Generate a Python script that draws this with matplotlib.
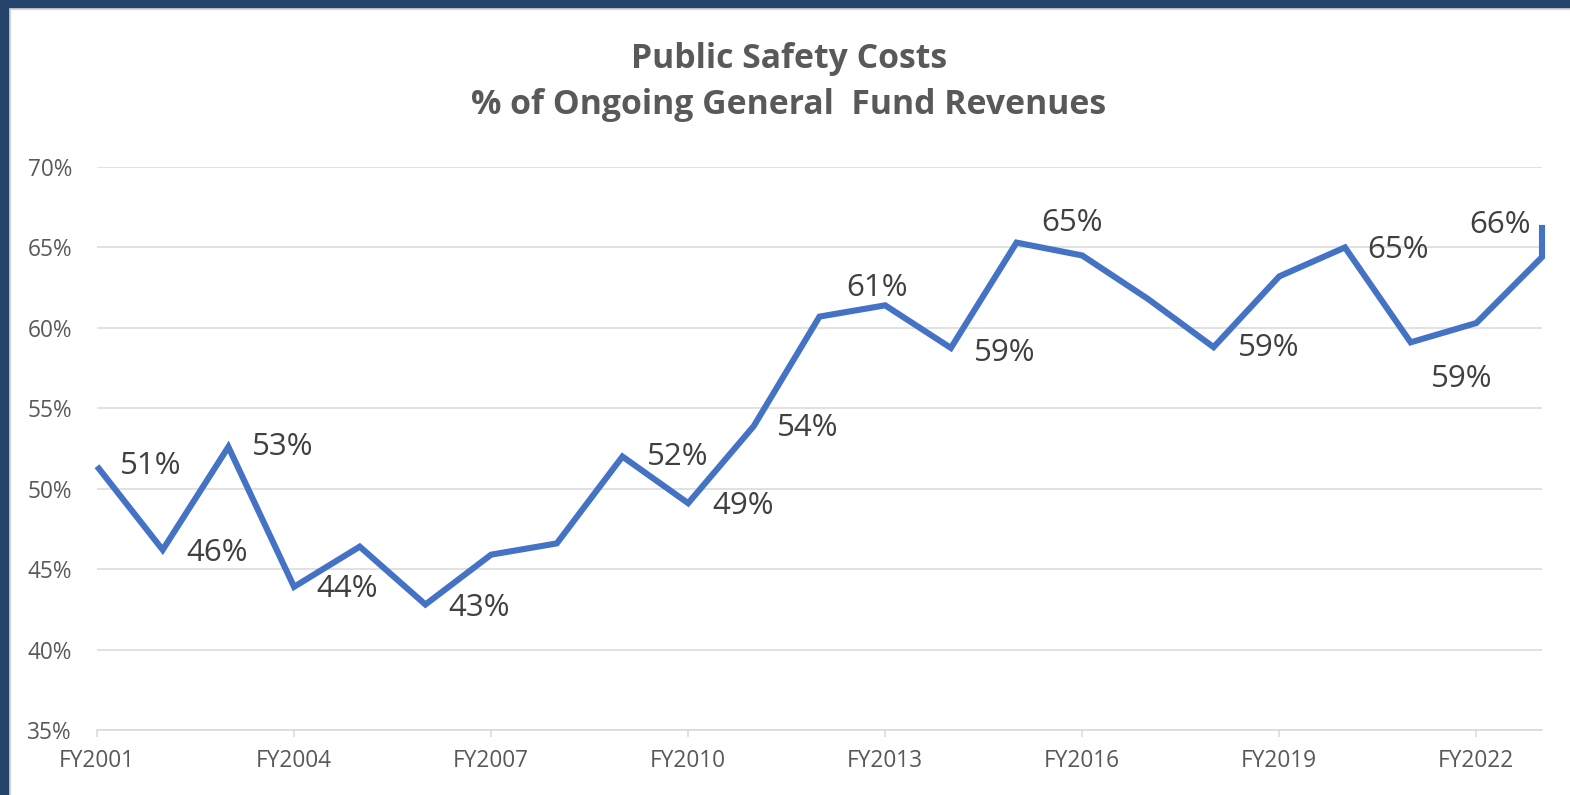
import matplotlib
matplotlib.use("Agg")
import matplotlib.pyplot as plt
from matplotlib.patches import Rectangle

# ---- data ----
years = [2001, 2002, 2003, 2004, 2005, 2006, 2007, 2008, 2009, 2010, 2011, 2012,
         2013, 2014, 2015, 2016, 2017, 2018, 2019, 2020, 2021, 2022, 2023, 2023]
pct = [51.4, 46.2, 52.6, 43.9, 46.4, 42.8, 45.9, 46.6, 52.0, 49.1, 53.9, 60.7,
       61.4, 58.75, 65.3, 64.5, 61.8, 58.8, 63.2, 65.0, 59.1, 60.3, 64.4, 66.4]
tick_years = [2001, 2004, 2007, 2010, 2013, 2016, 2019, 2022]
tick_labels = ["FY2001", "FY2004", "FY2007", "FY2010", "FY2013", "FY2016", "FY2019", "FY2022"]
y_ticks = [35, 40, 45, 50, 55, 60, 65, 70]
title = "Public Safety Costs\n% of Ongoing General  Fund Revenues"

# labelled points: (index into data, dx px, dy px)  -- layout only
label_layout = [(0, 54, 0), (1, 54, -3), (2, 54, 0), (3, 53, -2), (5, 54, -3),
                (8, 55, 0), (9, 55, -3), (10, 54, -2), (12, -8, 17), (13, 54, -5),
                (14, 55, 20), (17, 55, -1), (19, 53, -3), (20, 51, -37), (23, -42, 0)]

FONT = "Open Sans"
GRAY = "#595959"
DARK = "#404040"
GRID = "#D9D9D9"

fig = plt.figure(figsize=(15.7, 7.95), dpi=100)
fig.patch.set_facecolor("white")

W, H = 1570, 795
ax = fig.add_axes([97 / W, 1 - 730 / H, (1542 - 97) / W, (730 - 167) / H])
ax.set_facecolor("white")

ax.plot(years, pct, color="#4472C4", lw=4.4, solid_joinstyle="miter",
        solid_capstyle="butt", zorder=3, clip_on=False)

ax.set_xlim(2001, 2023)
ax.set_ylim(35, 70)
ax.set_yticks(y_ticks)
ax.set_yticklabels([f"{v}%" for v in y_ticks], fontfamily=FONT, fontsize=16.3, color=GRAY)
ax.set_xticks(tick_years)
ax.set_xticklabels(tick_labels, fontfamily=FONT, fontsize=16.3, color=GRAY)
ax.tick_params(axis="y", length=0, pad=18)
ax.tick_params(axis="x", length=5, width=1.1, color=GRID, pad=9)
ax.grid(axis="y", color=GRID, lw=1.1, zorder=0)
for s in ["top", "right", "left"]:
    ax.spines[s].set_visible(False)
ax.spines["bottom"].set_color(GRID)
ax.spines["bottom"].set_linewidth(1.1)

for idx, dx, dy in label_layout:
    ax.annotate(f"{round(pct[idx]):.0f}%", xy=(years[idx], pct[idx]),
                xytext=(dx, dy), textcoords="offset pixels",
                ha="center", va="center", fontfamily=FONT, fontsize=22.5,
                color=DARK, zorder=4, annotation_clip=False)

fig.text(789 / W, 1 - 82 / H, title, ha="center", va="center",
         fontfamily=FONT, fontweight="bold", fontsize=24.3, color=GRAY,
         linespacing=1.5)

# frame borders
fig.patches.append(Rectangle((0, 1 - 7 / H), 1, 7 / H, transform=fig.transFigure,
                             color="#25446B", zorder=10))
fig.patches.append(Rectangle((0, 0), 8 / W, 1, transform=fig.transFigure,
                             color="#25446B", zorder=10))
fig.patches.append(Rectangle((8 / W, 1 - 9 / H), 1, 2 / H, transform=fig.transFigure,
                             color=GRID, zorder=9))
fig.patches.append(Rectangle((8 / W, 0), 2 / W, 1, transform=fig.transFigure,
                             color=GRID, zorder=9))

fig.savefig("out.png", dpi=100, facecolor="white")
